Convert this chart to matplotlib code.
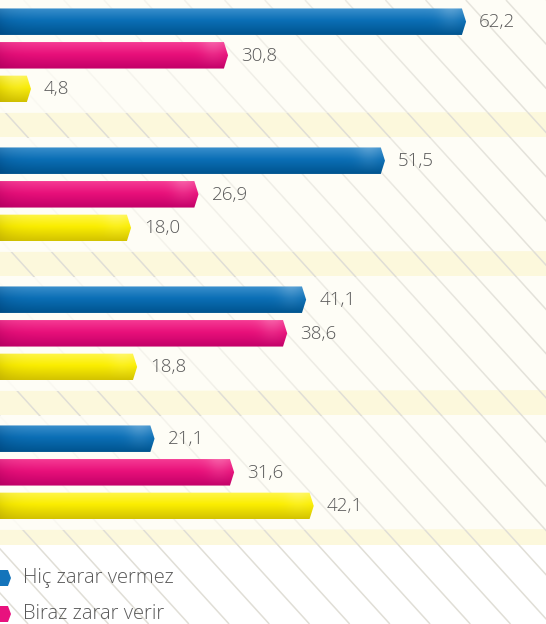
import numpy as np
import matplotlib
matplotlib.use("Agg")
import matplotlib.pyplot as plt
from matplotlib.patches import Polygon
from matplotlib.colors import to_rgb

# ---------------- data ----------------
series_names = ["Hiç zarar vermez", "Biraz zarar verir"]
hic_zarar_vermez = [62.2, 51.5, 41.1, 21.1]
biraz_zarar_verir = [30.8, 26.9, 38.6, 31.6]
third_series = [4.8, 18.0, 18.8, 42.1]
series_values = [hic_zarar_vermez, biraz_zarar_verir, third_series]

# ---------------- style ----------------
W, H = 546, 624
PX_PER_UNIT = 7.58
X_OFFSET_PX = -5.4          # pixel position of value 0
GROUP_STEP = 139.0
SUB_STEP = 33.6
FIRST_CENTER = 21.7
BAR_H = 26.5
TIP = 0.55                  # length of pointed tip (value units)
CHART_BOTTOM = 545

palettes = [
    dict(top="#3a8fcc", mid="#0b6fb6", bot="#00548f", shade="#00427a", flat="#1474bb"),
    dict(top="#f53a93", mid="#e8107a", bot="#c20068", shade="#a8005a", flat="#e8127e"),
    dict(top="#fff64a", mid="#fbee00", bot="#d3c300", shade="#b9a800", flat="#f7ea00"),
]
text_color = "#585858"
FONT = ["Open Sans", "DejaVu Sans"]

fig = plt.figure(figsize=(W / 100, H / 100), dpi=100)

# background axes in pixel units
bg = fig.add_axes([0, 0, 1, 1], zorder=0)
bg.set_xlim(0, W)
bg.set_ylim(H, 0)
bg.axis("off")
bg.add_patch(plt.Rectangle((0, 0), W, CHART_BOTTOM, color="#fefdf6", lw=0, zorder=0))
bg.add_patch(plt.Rectangle((0, CHART_BOTTOM), W, H - CHART_BOTTOM, color="#ffffff", lw=0, zorder=0))

n_groups = len(hic_zarar_vermez)
bands = []
for g in range(n_groups):
    top = FIRST_CENTER + GROUP_STEP * g + 90.5
    bot = min(top + 25, CHART_BOTTOM)
    bands.append((top, bot))
    bg.add_patch(plt.Rectangle((0, top), W, bot - top, color="#fcf8dc", lw=0, zorder=1))

slope = 1.1
for x0 in np.arange(-700, W + 40, 40.2):
    bg.plot([x0, x0 + H / slope], [0, H], color="#e0ded6", lw=1.1, zorder=2,
            solid_capstyle="butt")

# fade overlay on the cream area (lines fade out to the left)
yy, xx = np.mgrid[0:H, 0:W]
alpha = np.clip(0.92 * (1 - xx / 620.0), 0, 1)
mask = yy < CHART_BOTTOM
for (t, b) in bands:
    mask &= ~((yy >= t) & (yy < b))
overlay = np.zeros((H, W, 4))
overlay[..., :3] = to_rgb("#fefdf6")
overlay[..., 3] = alpha * mask
bg.imshow(overlay, extent=[0, W, H, 0], aspect="auto", zorder=3, interpolation="nearest")
bg.set_xlim(0, W)
bg.set_ylim(H, 0)

# main axes in value units (x) / pixel units (y)
ax = fig.add_axes([0, 0, 1, 1], zorder=1)
ax.patch.set_alpha(0)
ax.axis("off")


def draw_bar(x_end, yc, h, pal, tip=TIP, flat=False):
    y0, y1 = yc - h / 2, yc + h / 2
    poly = Polygon([(-2, y0), (x_end - tip, y0), (x_end, yc),
                    (x_end - tip, y1), (-2, y1)], closed=True,
                   facecolor=pal["flat"] if flat else "none", edgecolor="none",
                   zorder=3)
    ax.add_patch(poly)
    if flat:
        return
    nr, nc = 40, 200
    t = np.linspace(0, 1, nr)[:, None]          # 0 top -> 1 bottom
    ctop, cmid, cbot = (np.array(to_rgb(pal[k])) for k in ("top", "mid", "bot"))
    col = np.where(t[..., None] < 0.45,
                   ctop + (cmid - ctop) * (t[..., None] / 0.45),
                   cmid + (cbot - cmid) * ((t[..., None] - 0.45) / 0.55))
    col = np.repeat(col, nc, axis=1)
    xs = np.linspace(-2, x_end, nc)
    shade = np.array(to_rgb(pal["shade"]))
    wshade = np.exp(-np.clip(xs, 0, None) / 1.6)[None, :, None] * 0.75
    wshade = wshade * (0.4 + 0.6 * t[..., None])
    col = col * (1 - wshade) + shade * wshade
    # sheen near right end
    dist = x_end - xs
    sheen = np.exp(-((dist - 2.0) / 1.6) ** 2)[None, :, None] * 0.18 * (1 - t[..., None])
    col = col * (1 - sheen) + 1.0 * sheen
    im = ax.imshow(np.clip(col, 0, 1), extent=[-2, x_end, y1, y0],
                   aspect="auto", interpolation="bilinear", zorder=3)
    im.set_clip_path(poly)


for g in range(n_groups):
    for s, vals in enumerate(series_values):
        v = vals[g]
        yc = FIRST_CENTER + GROUP_STEP * g + SUB_STEP * s
        draw_bar(v, yc, BAR_H, palettes[s])
        ax.text(v + 13 / PX_PER_UNIT, yc + 0.5, f"{v:.1f}".replace(".", ","),
                va="center", ha="left", fontsize=13.5, color=text_color,
                family=FONT, fontweight="light", zorder=4)

# legend
leg_y = [578, 614]
for i, name in enumerate(series_names):
    draw_bar((11 - X_OFFSET_PX) / PX_PER_UNIT, leg_y[i], 16, palettes[i], tip=0.4, flat=True)
    ax.text((23 - X_OFFSET_PX) / PX_PER_UNIT, leg_y[i], name, va="center",
            ha="left", fontsize=14.5, color=text_color, family=FONT,
            fontweight="light", zorder=4)

ax.set_xlim(-X_OFFSET_PX / PX_PER_UNIT, (W - X_OFFSET_PX) / PX_PER_UNIT)
ax.set_ylim(H, 0)

fig.savefig("out.png", dpi=100)
